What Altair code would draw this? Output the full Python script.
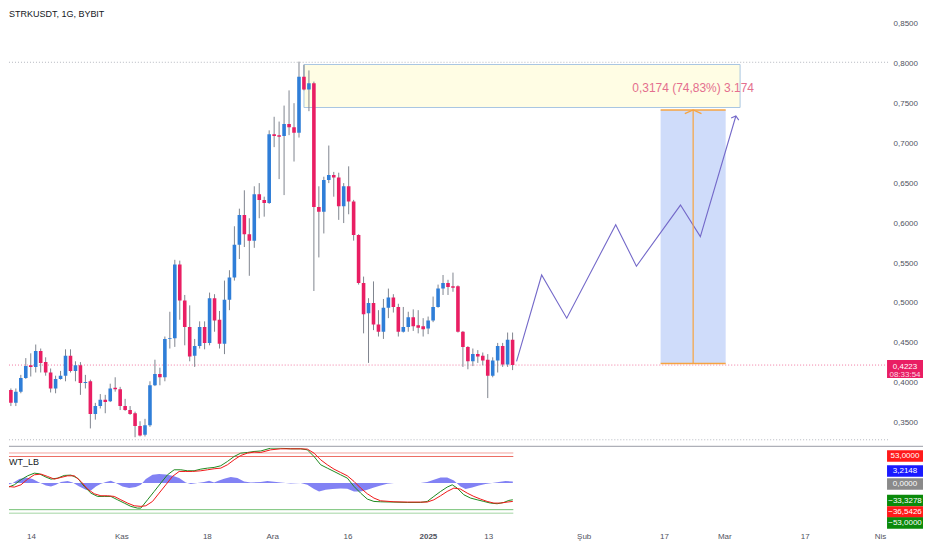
import json
import altair as alt
import pandas as pd

FONT = "Liberation Sans"

# ---------------- main pane: STRKUSDT daily candles ----------------
first_day = "2024-10-09"
opens = [0.391, 0.375, 0.389, 0.406, 0.422, 0.420, 0.440, 0.426, 0.413, 0.393,
         0.405, 0.409, 0.434, 0.415, 0.422, 0.400, 0.402, 0.361, 0.371, 0.379,
         0.377, 0.394, 0.392, 0.371, 0.366, 0.362, 0.346, 0.335, 0.347, 0.397,
         0.411, 0.407, 0.455, 0.456, 0.548, 0.503, 0.470, 0.434, 0.446, 0.470,
         0.450, 0.506, 0.479, 0.449, 0.504, 0.532, 0.573, 0.610, 0.586, 0.578,
         0.636, 0.629, 0.625, 0.711, 0.710, 0.709, 0.724, 0.720, 0.713, 0.783,
         0.767, 0.775, 0.620, 0.614, 0.654, 0.660, 0.657, 0.621, 0.646, 0.627,
         0.585, 0.525, 0.487, 0.500, 0.473, 0.464, 0.494, 0.507, 0.495, 0.464,
         0.470, 0.482, 0.472, 0.471, 0.468, 0.478, 0.495, 0.518, 0.525, 0.521,
         0.521, 0.464, 0.445, 0.427, 0.436, 0.434, 0.429, 0.409, 0.428, 0.446,
         0.423, 0.454]
highs = [0.393, 0.393, 0.410, 0.431, 0.437, 0.448, 0.443, 0.432, 0.418, 0.409,
         0.415, 0.442, 0.442, 0.427, 0.426, 0.410, 0.404, 0.375, 0.386, 0.385,
         0.399, 0.407, 0.395, 0.380, 0.371, 0.364, 0.352, 0.355, 0.402, 0.429,
         0.419, 0.458, 0.489, 0.554, 0.553, 0.510, 0.497, 0.455, 0.477, 0.477,
         0.513, 0.511, 0.490, 0.528, 0.541, 0.596, 0.618, 0.641, 0.606, 0.646,
         0.650, 0.633, 0.716, 0.733, 0.727, 0.747, 0.766, 0.750, 0.802, 0.798,
         0.791, 0.777, 0.646, 0.658, 0.697, 0.664, 0.663, 0.650, 0.671, 0.629,
         0.586, 0.533, 0.506, 0.527, 0.491, 0.505, 0.518, 0.511, 0.499, 0.495,
         0.489, 0.492, 0.491, 0.481, 0.483, 0.508, 0.523, 0.535, 0.529, 0.538,
         0.522, 0.465, 0.446, 0.443, 0.441, 0.438, 0.436, 0.432, 0.450, 0.450,
         0.463, 0.463]
lows = [0.371, 0.371, 0.387, 0.405, 0.408, 0.413, 0.413, 0.409, 0.388, 0.387,
        0.404, 0.402, 0.413, 0.402, 0.385, 0.393, 0.343, 0.354, 0.368, 0.362,
        0.376, 0.389, 0.366, 0.365, 0.360, 0.332, 0.333, 0.333, 0.345, 0.396,
        0.397, 0.402, 0.443, 0.445, 0.479, 0.447, 0.427, 0.420, 0.443, 0.442,
        0.447, 0.464, 0.443, 0.436, 0.491, 0.528, 0.555, 0.570, 0.534, 0.569,
        0.606, 0.608, 0.624, 0.695, 0.655, 0.635, 0.710, 0.677, 0.707, 0.766,
        0.740, 0.515, 0.557, 0.587, 0.650, 0.633, 0.604, 0.600, 0.611, 0.578,
        0.523, 0.462, 0.425, 0.466, 0.458, 0.455, 0.481, 0.488, 0.458, 0.463,
        0.464, 0.465, 0.462, 0.458, 0.461, 0.476, 0.494, 0.510, 0.510, 0.514,
        0.463, 0.420, 0.417, 0.421, 0.425, 0.422, 0.381, 0.407, 0.413, 0.420,
        0.420, 0.416]
closes = [0.375, 0.389, 0.406, 0.421, 0.420, 0.440, 0.425, 0.413, 0.393, 0.405,
          0.409, 0.434, 0.415, 0.422, 0.400, 0.401, 0.361, 0.371, 0.379, 0.376,
          0.393, 0.392, 0.371, 0.366, 0.361, 0.346, 0.334, 0.347, 0.397, 0.411,
          0.407, 0.455, 0.456, 0.548, 0.503, 0.470, 0.433, 0.446, 0.470, 0.450,
          0.506, 0.478, 0.449, 0.504, 0.532, 0.573, 0.610, 0.586, 0.578, 0.636,
          0.629, 0.625, 0.711, 0.709, 0.708, 0.724, 0.720, 0.713, 0.783, 0.767,
          0.775, 0.620, 0.614, 0.654, 0.660, 0.657, 0.621, 0.646, 0.627, 0.585,
          0.525, 0.486, 0.500, 0.473, 0.464, 0.494, 0.507, 0.495, 0.464, 0.470,
          0.482, 0.471, 0.469, 0.467, 0.478, 0.495, 0.518, 0.525, 0.520, 0.519,
          0.464, 0.445, 0.427, 0.436, 0.433, 0.428, 0.409, 0.428, 0.446, 0.423,
          0.454, 0.4223]

# ---------------- axes ----------------
tick_dates = ["2024-10-14", "2024-11-01", "2024-11-18", "2024-12-01", "2024-12-16",
              "2025-01-01", "2025-01-13", "2025-02-01", "2025-02-17", "2025-03-01",
              "2025-03-17", "2025-04-01"]
tick_labels = ["14", "Kas", "18", "Ara", "16", "2025", "13", "Şub", "17", "Mar", "17", "Nis"]
bold_label = "2025"
price_ticks = [0.35, 0.40, 0.45, 0.50, 0.55, 0.60, 0.65, 0.70, 0.75, 0.80, 0.85]

# ---------------- drawings (day offsets from 2024-10-14) ----------------
range_high = 0.8012
range_low = 0.3288
last_price = 0.4223
countdown = "08:33:54"
title_text = "STRKUSDT, 1G, BYBIT"

box_days = [54.0, 141.8]
box_prices = [0.7446, 0.7984]

measure_days = [125.8, 138.9]
measure_mid_day = 132.35
measure_prices = [0.4241, 0.7415]
measure_label = "0,3174 (74,83%) 3.174"
measure_label_price = 0.7684

proj_days = [96.8, 101.85, 106.9, 116.76, 120.93, 129.8, 133.8, 140.95]
proj_prices = [0.427, 0.535, 0.481, 0.598, 0.546, 0.6225, 0.583, 0.734]

# ---------------- WT_LB indicator ----------------
wt1_days = [-5.96, -4.64, -3.31, -1.99, -0.66, 0.66, 1.66, 2.98, 3.98, 5.30, 6.63, 7.95,
            9.28, 10.6, 11.93, 13.25, 14.58, 15.9, 17.23, 18.56, 19.88, 21.21, 21.87,
            23.2, 24.52, 25.84, 27.17, 28.5, 29.82, 31.15, 32.47, 33.8, 35.12, 36.45,
            37.77, 39.1, 40.43, 41.75, 43.08, 44.40, 45.73, 47.72, 49.71, 51.69, 53.68,
            55.01, 56.33, 57.66, 58.98, 60.31, 61.63, 62.96, 64.29, 65.61, 66.94, 68.26,
            69.59, 72.24, 74.89, 77.54, 78.87, 80.19, 81.52, 82.84, 83.84, 84.83, 86.15,
            87.48, 88.81, 90.13, 91.46, 92.78, 94.11, 95.1, 95.9]
wt1_vals = [-3.4, -8.7, -3.4, 6.6, 14.5, 19.8, 18.5, 11.9, 7.9, 9.9, 15.2, 15.9,
            9.9, -6.7, -20, -26.6, -26.6, -26.6, -33.3, -39.9, -46.5, -49.9, -49.9,
            -33.3, -16.7, 0, 16.5, 26.5, 26.5, 24.5, 24.5, 27.8, 29.8, 31.2,
            34.5, 43.1, 53, 59.7, 61, 63, 64, 69.7, 69.7, 68.3, 68.3,
            66.3, 53, 36.5, 29.8, 23.2, 16.5, 9.9, -6.7, -20, -31.9, -36.6,
            -37.3, -37.9, -38.6, -38.6, -36.6, -26.6, -16.7, -8, -3.4, -10, -23.3,
            -29.9, -33.3, -36.6, -39.9, -41.2, -38.6, -34.6, -33.3278]

wt2_days = [-5.96, -4.64, -3.31, -1.99, -0.66, 0.66, 1.99, 3.31, 4.64, 5.96, 7.29, 8.62,
            9.94, 11.27, 12.59, 13.92, 15.24, 16.57, 17.89, 19.22, 20.54, 21.87, 22.86,
            24.19, 25.51, 26.84, 28.16, 29.49, 30.81, 32.14, 33.8, 35.12, 36.45, 37.77,
            39.1, 40.43, 41.75, 43.08, 44.40, 45.73, 47.72, 49.71, 51.69, 53.68, 55.01,
            56.33, 57.66, 58.98, 60.31, 61.63, 62.96, 64.29, 65.61, 66.94, 68.26, 69.59,
            72.24, 74.89, 77.54, 78.87, 80.19, 81.52, 82.84, 84.17, 85.49, 86.82, 88.14,
            89.47, 90.79, 92.12, 93.45, 94.77, 95.9]
wt2_vals = [0, -6.7, -8, -3.4, 7.9, 16.5, 17.9, 13.2, 7.9, 11.2, 14.5, 14.5,
            3.3, -12, -21.3, -25.3, -25.3, -26.6, -33.3, -39.9, -45.2, -46.5, -45.2,
            -36.6, -20, -3.4, 13.2, 23.2, 23.2, 23.2, 24.5, 26.5, 28.5, 29.8,
            36.5, 46.4, 55, 59.7, 61.7, 61, 66.3, 68.3, 68.3, 68.3, 67.7,
            59.7, 46.4, 36.5, 27.8, 21.2, 14.5, 3.3, -10, -21.3, -29.9, -35.3,
            -37.3, -37.9, -37.9, -37.9, -33.3, -25.3, -16.7, -10, -12, -20, -26.6,
            -31.9, -36.6, -39.9, -39.9, -37.9, -36.5426]

diff_days = [-5.96, -4.97, -3.64, -2.32, -0.99, 0.33, 1.66, 2.98, 3.98, 4.97, 5.96, 7.29,
             8.28, 9.61, 10.93, 11.93, 12.92, 13.92, 14.91, 15.9, 16.9, 18.22, 19.55,
             20.87, 21.87, 22.86, 24.19, 25.51, 26.84, 28.16, 29.49, 30.81, 31.81, 33.13,
             34.46, 35.45, 36.45, 37.44, 38.44, 39.76, 41.09, 42.41, 43.74, 45.73, 47.06,
             48.38, 49.71, 51.69, 53.68, 55.01, 56.33, 57.33, 58.65, 59.98, 61.63, 62.96,
             64.29, 65.61, 66.94, 68.26, 69.59, 70.91, 72.24, 74.89, 77.54, 78.87, 80.19,
             81.52, 82.84, 84.17, 85.49, 86.49, 87.81, 89.14, 90.46, 91.79, 93.11, 94.44,
             95.9]
diff_vals = [-3, -4.6, 0, 8, 11.2, 8, 1.3, -4.6, -6.6, -3.3, 2, 4,
             1.3, -6.6, -13.3, -14.6, -6.6, -1.3, 2, 4.6, 0, -6.6, -10,
             -8, -3.3, 8, 16.6, 17.9, 17.3, 14.6, 10, 1.3, -2, 0,
             2, 4.6, 1.3, 5.3, 8.6, 12, 10, 3.3, 1.3, 2, 4,
             2.7, 1.3, -0.7, 0, -3.3, -12, -16.6, -13.3, -12, -10.6, -11.3,
             -16.6, -16.6, -13.3, -8.6, -4.6, -1.3, 0, 0, 0, 2, 6.6,
             11.2, 11.2, 5.3, -6.6, -12, -8.6, -4.6, -2, 0, 2, 4,
             3.2148]

ob_levels = [60, 53]
os_levels = [-53, -60]

# ---------------- colours ----------------
UP = "#2f7ed8"
DOWN = "#e91e63"
WICK = "#80858f"
AXIS_TXT = "#50535e"

# ---------------- derived tables ----------------
origin = pd.Timestamp("2024-10-14")
dates = pd.date_range(first_day, periods=len(opens), freq="D")
days = [(d - origin).days for d in dates]
candles = pd.DataFrame({"t": days, "o": opens, "h": highs, "l": lows, "c": closes})
candles["dir"] = ["up" if c >= o else "down" for o, c in zip(opens, closes)]
last_day = days[-1]

tick_days = [(pd.Timestamp(d) - origin).days for d in tick_dates]
bold_day = tick_days[tick_labels.index(bold_label)]

X_MIN, X_MAX = -4.374, 170.58
TOP_W, TOP_H, BOT_H = 880, 439, 80

XS = alt.Scale(domain=[X_MIN, X_MAX], nice=False, zero=False)
YS = alt.Scale(domain=[0.32, 0.86875], nice=False, zero=False)
IS = alt.Scale(domain=[-89, 70.3], nice=False, zero=False)

price_axis = alt.Axis(orient="right", values=price_ticks,
                      labelExpr="replace(format(datum.value, '.4f'), '.', ',')",
                      ticks=False, domain=False, grid=False, labelFontSize=8,
                      labelColor=AXIS_TXT, labelFont=FONT, labelPadding=5, title=None)

time_axis = alt.Axis(values=tick_days,
                     labelExpr=json.dumps(tick_labels, ensure_ascii=False)
                     + "[indexof(" + json.dumps(tick_days) + ", datum.value)]",
                     labelFontWeight={"condition": {"test": f"datum.value == {bold_day}",
                                                    "value": "bold"}, "value": "normal"},
                     ticks=False, domain=False, grid=False, labelFontSize=8,
                     labelColor=AXIS_TXT, labelFont=FONT, labelPadding=5,
                     labelOverlap=False, labelFlush=False, title=None)


def tx(f="t"):
    return alt.X(f"{f}:Q", scale=XS, axis=None)


def bx(f="t"):
    return alt.X(f"{f}:Q", scale=XS, axis=time_axis)


def py(f):
    return alt.Y(f"{f}:Q", scale=YS, axis=price_axis)


def iy(f):
    return alt.Y(f"{f}:Q", scale=IS, axis=None)


LABEL_CALC = "replace(format(datum.v, '.4f'), '.', ',')"
TAG_PATH = "M-1,-0.32H1V0.32H-1Z"
PRICE_PATH = "M-1,-0.5H1V0.5H-1Z"
TAG_SIZE = 36 * 36
TAG_X = 897

# ---------------- main pane layers ----------------
hlines = alt.Chart(pd.DataFrame({"p": [range_high, range_low]})).mark_rule(
    color="#b5b8c0", strokeDash=[1, 2], strokeWidth=1
).encode(y=py("p"), x=alt.value(0), x2=alt.value(TOP_W))

lastline = alt.Chart(pd.DataFrame({"p": [last_price]})).mark_rule(
    color=DOWN, strokeDash=[1, 2], strokeWidth=1, opacity=0.6
).encode(y=py("p"), x=alt.value(0), x2=alt.value(TOP_W))

ybox = alt.Chart(pd.DataFrame({"t0": [box_days[0]], "t1": [box_days[1]],
                               "p0": [box_prices[0]], "p1": [box_prices[1]]})).mark_rect(
    fill="#fffde4", stroke="#a9c6e2", strokeWidth=1
).encode(x=tx("t0"), x2=alt.X2("t1:Q"), y=py("p0"), y2=alt.Y2("p1:Q"))

wicks = alt.Chart(candles).mark_rule(color=WICK, strokeWidth=1, clip=True).encode(
    x=tx(), y=py("l"), y2=alt.Y2("h:Q"))

bodies = alt.Chart(candles).mark_bar(size=3.6, clip=True).encode(
    x=tx(), y=py("o"), y2=alt.Y2("c:Q"),
    color=alt.Color("dir:N", scale=alt.Scale(domain=["up", "down"], range=[UP, DOWN]),
                    legend=None))

mdf = pd.DataFrame({"t0": [measure_days[0]], "t1": [measure_days[1]],
                    "p0": [measure_prices[0]], "p1": [measure_prices[1]]})
mbox = alt.Chart(mdf).mark_rect(fill="#c3d3f9", opacity=0.8).encode(
    x=tx("t0"), x2=alt.X2("t1:Q"), y=py("p0"), y2=alt.Y2("p1:Q"))

medges = alt.Chart(pd.DataFrame({"t0": [measure_days[0]] * 2, "t1": [measure_days[1]] * 2,
                                 "p": measure_prices})).mark_rule(
    color="#f7a440", strokeWidth=1.5
).encode(x=tx("t0"), x2=alt.X2("t1:Q"), y=py("p"))

mvert = alt.Chart(pd.DataFrame({"t": [measure_mid_day], "p0": [measure_prices[0]],
                                "p1": [measure_prices[1]]})).mark_rule(
    color="#f7a440", strokeWidth=1.2
).encode(x=tx(), y=py("p0"), y2=alt.Y2("p1:Q"))

marrow = alt.Chart(pd.DataFrame({"t": [measure_mid_day], "p": [measure_prices[1]]})).mark_point(
    shape="M-1,0.44L0,0L1,0.44", size=279, filled=False, color="#f7a440",
    strokeWidth=1.3, opacity=1
).encode(x=tx(), y=py("p"))

mtext = alt.Chart(pd.DataFrame({"t": [measure_mid_day], "p": [measure_label_price]})).mark_text(
    font=FONT, fontSize=12, color="#e46f8e"
).encode(x=tx(), y=py("p"), text=alt.value(measure_label))

proj = alt.Chart(pd.DataFrame({"t": proj_days, "p": proj_prices, "i": list(range(len(proj_days)))})
                 ).mark_line(color="#7469c9", strokeWidth=1.1).encode(
    x=tx(), y=py("p"), order="i:Q")

parrow = alt.Chart(pd.DataFrame({"t": [proj_days[-1]], "p": [proj_prices[-1]]})).mark_point(
    shape="M-1,0.8L0,0L1,0.8", size=64, filled=False, color="#7469c9",
    strokeWidth=1.1, opacity=1, angle=16.6
).encode(x=tx(), y=py("p"))

title = alt.Chart(pd.DataFrame({"a": [0]})).mark_text(
    font=FONT, fontSize=9, color="#131722", align="left", baseline="middle", fontWeight=500
).encode(x=alt.value(0), y=alt.value(6), text=alt.value(title_text))

pdf = pd.DataFrame({"v": [last_price]})
pbase = alt.Chart(pdf).transform_calculate(label=LABEL_CALC)
pbox = pbase.mark_point(shape=PRICE_PATH, size=TAG_SIZE, filled=True, color=DOWN,
                        opacity=1, strokeWidth=0, yOffset=4).encode(
    x=alt.value(TAG_X), y=py("v"))
ptxt1 = pbase.mark_text(font=FONT, fontSize=8, color="white", yOffset=1.5).encode(
    x=alt.value(TAG_X), y=py("v"), text="label:N")
ptxt2 = pbase.mark_text(font=FONT, fontSize=8, color="#fcd3e0", yOffset=9.5).encode(
    x=alt.value(TAG_X), y=py("v"), text=alt.value(countdown))

sep = alt.Chart(pd.DataFrame({"a": [0]})).mark_rule(color="#9a9da6", strokeWidth=1).encode(
    x=alt.value(0), x2=alt.value(915), y=alt.value(TOP_H - 0.5))

top = alt.layer(hlines, lastline, ybox, wicks, bodies, mbox, proj, medges, mvert, marrow,
                parrow, mtext, title, pbox, ptxt1, ptxt2, sep).properties(
    width=TOP_W, height=TOP_H)

# ---------------- indicator pane layers ----------------
def level(v, colour):
    d = pd.DataFrame({"v": [v], "t0": [X_MIN], "t1": [last_day]})
    return alt.Chart(d).mark_rule(strokeWidth=1, color=colour).encode(
        x=bx("t0"), x2=alt.X2("t1:Q"), y=iy("v"))


levels = [level(ob_levels[0], "#f3a6a0"), level(ob_levels[1], "#ec6b62"),
          level(os_levels[0], "#74c174"), level(os_levels[1], "#a3d6a3")]

area = alt.Chart(pd.DataFrame({"t": diff_days, "v": diff_vals, "base": [0] * len(diff_vals)})
                 ).mark_area(color="#6c6cf2", opacity=0.85, clip=True).encode(
    x=bx(), y=iy("v"), y2=alt.Y2("base:Q"))

wt1 = alt.Chart(pd.DataFrame({"t": wt1_days, "v": wt1_vals})).mark_line(
    color="#1f8a1f", strokeWidth=1, clip=True).encode(x=bx(), y=iy("v"))
wt2 = alt.Chart(pd.DataFrame({"t": wt2_days, "v": wt2_vals})).mark_line(
    color="#f01818", strokeWidth=1, clip=True).encode(x=bx(), y=iy("v"))

wlabel = alt.Chart(pd.DataFrame({"a": [0]})).mark_text(
    font=FONT, fontSize=9, color="#131722", align="left", baseline="middle"
).encode(x=alt.value(0), y=alt.value(14), text=alt.value("WT_LB"))


def tag(value, fill, yoff):
    base = alt.Chart(pd.DataFrame({"v": [value]})).transform_calculate(label=LABEL_CALC)
    box = base.mark_point(shape=TAG_PATH, size=TAG_SIZE, filled=True, color=fill, opacity=1,
                          strokeWidth=0, yOffset=yoff).encode(x=alt.value(TAG_X), y=iy("v"))
    txt = base.mark_text(font=FONT, fontSize=8, color="white", yOffset=yoff).encode(
        x=alt.value(TAG_X), y=iy("v"), text="label:N")
    return [box, txt]


tags = (tag(ob_levels[1], "#ff1a1a", -0.4) + tag(diff_vals[-1], "#1a1aff", -10.5)
        + tag(0.0, "#8a8a8a", 1.0) + tag(wt1_vals[-1], "#0a8a0a", 0.8)
        + tag(wt2_vals[-1], "#ff1a1a", 10.6) + tag(os_levels[0], "#0a8a0a", 13.4))

bottom = alt.layer(*levels, area, wt1, wt2, wlabel, *tags).properties(
    width=TOP_W, height=BOT_H)

chart = alt.vconcat(top, bottom, spacing=1, bounds="flush").properties(
    padding=0, background="white"
).configure_view(stroke=None)

chart.save("out.html", embed_options={"renderer": "svg", "actions": False})
